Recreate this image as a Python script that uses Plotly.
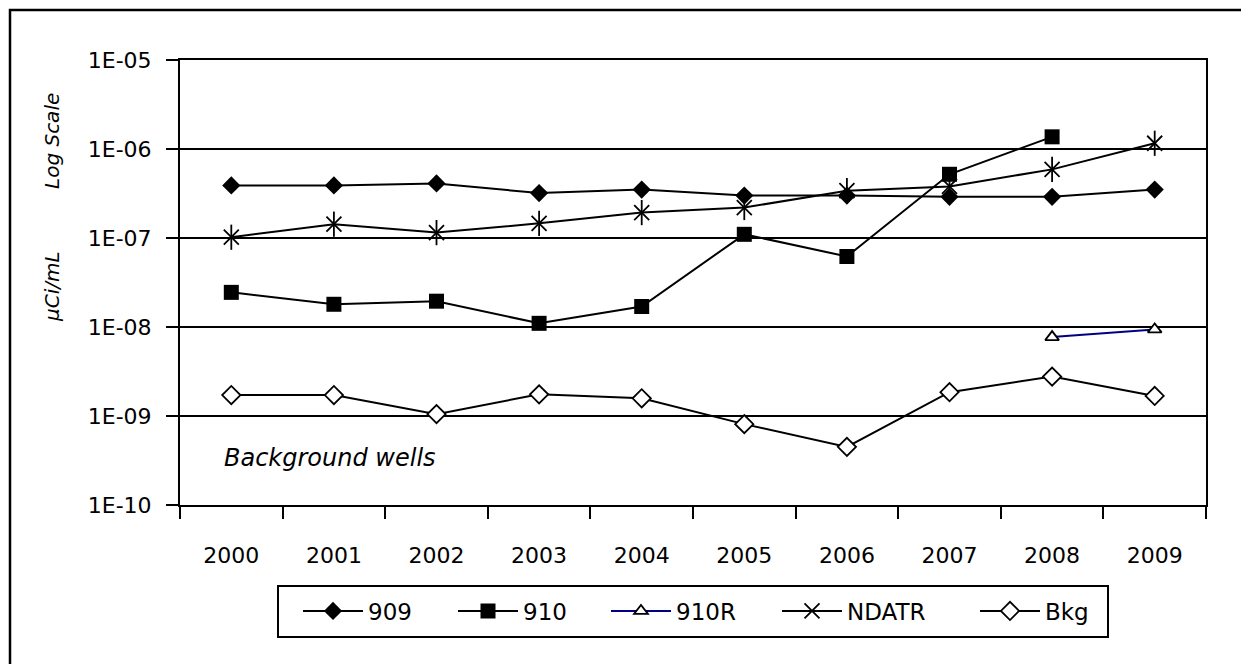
import plotly.graph_objects as go

years = ['2000', '2001', '2002', '2003', '2004', '2005', '2006', '2007', '2008', '2009']

w909 = [3.9e-7, 3.9e-7, 4.1e-7, 3.2e-7, 3.5e-7, 3.0e-7, 3.0e-7, 2.9e-7, 2.9e-7, 3.5e-7]
w910 = [2.45e-8, 1.8e-8, 1.95e-8, 1.1e-8, 1.7e-8, 1.1e-7, 6.2e-8, 5.2e-7, 1.37e-6, None]
w910r = [None, None, None, None, None, None, None, None, 7.7e-9, 9.4e-9]
ndatr = [1.02e-7, 1.43e-7, 1.15e-7, 1.46e-7, 1.93e-7, 2.2e-7, 3.4e-7, 3.8e-7, 5.9e-7, 1.16e-6]
bkg = [1.72e-9, 1.72e-9, 1.05e-9, 1.75e-9, 1.58e-9, 8.1e-10, 4.5e-10, 1.85e-9, 2.77e-9, 1.68e-9]

ytick_vals = [1e-10, 1e-9, 1e-8, 1e-7, 1e-6, 1e-5]
ytick_text = ['1E-10', '1E-09', '1E-08', '1E-07', '1E-06', '1E-05']

FONT = 'DejaVu Sans'
OFF = 8  # page body margin
W, H = 1241, 656
# plot area on the page: x 180..1206, y 60..505
L, T = 180 - OFF, 60 - OFF
R, B = W - (1206 - OFF), H - (505 - OFF)
pw, ph = W - L - R, H - T - B


def px(x):
    # page pixel -> paper x
    return (x - OFF - L) / pw


def py(y):
    # page pixel -> paper y
    return (H - B - (y - OFF)) / ph


fig = go.Figure()
fig.add_trace(go.Scatter(x=years, y=w909, name='909', mode='lines+markers', legend='legend',
                         line=dict(color='black', width=2),
                         marker=dict(symbol='diamond', size=14, color='black')))
fig.add_trace(go.Scatter(x=years, y=w910, name='910', mode='lines+markers', legend='legend2',
                         line=dict(color='black', width=2),
                         marker=dict(symbol='square', size=15, color='black')))
fig.add_trace(go.Scatter(x=years, y=w910r, name='910R', mode='lines+markers', legend='legend3',
                         line=dict(color='#000080', width=2),
                         marker=dict(symbol='triangle-up', size=12, color='white',
                                     line=dict(color='black', width=1.8))))
fig.add_trace(go.Scatter(x=years, y=ndatr, name='NDATR', mode='lines+markers', legend='legend4',
                         line=dict(color='black', width=2),
                         marker=dict(symbol='x-thin-open', size=15, color='black',
                                     line=dict(color='black', width=1.8))))
fig.add_trace(go.Scatter(x=years, y=ndatr, showlegend=False, mode='markers',
                         hoverinfo='skip',
                         marker=dict(symbol='line-ns-open', size=18, color='black',
                                     line=dict(color='black', width=1.8))))
fig.add_trace(go.Scatter(x=years, y=bkg, name='Bkg', mode='lines+markers', legend='legend5',
                         line=dict(color='black', width=2),
                         marker=dict(symbol='diamond', size=14, color='white',
                                     line=dict(color='black', width=1.8))))

# outer frame (clipped on the right and bottom)
fig.add_shape(type='rect', xref='paper', yref='paper',
              x0=px(10), x1=px(1300), y0=py(720), y1=py(10),
              line=dict(color='black', width=2.5), layer='below')
# legend box
fig.add_shape(type='rect', xref='paper', yref='paper',
              x0=px(278), x1=px(1108), y0=py(637), y1=py(586),
              line=dict(color='black', width=2), fillcolor='white', layer='below')

fig.add_annotation(x=px(52), y=py(141), xref='paper', yref='paper', text='<i>Log Scale</i>',
                   xanchor='center', yanchor='middle', textangle=-90, showarrow=False,
                   font=dict(size=20, color='black', family=FONT))
fig.add_annotation(x=px(52), y=py(287), xref='paper', yref='paper', text='<i>μCi/mL</i>',
                   xanchor='center', yanchor='middle', textangle=-90, showarrow=False,
                   font=dict(size=20, color='black', family=FONT))
fig.add_annotation(x=px(222), y=py(458), xref='paper', yref='paper', text='<i>Background wells</i>',
                   xanchor='left', yanchor='middle', showarrow=False,
                   font=dict(size=24, color='black', family=FONT))

fig.update_xaxes(type='category', range=[-0.5, 9.5], showline=True, linecolor='black',
                 linewidth=2, mirror=True, ticks='outside', ticklen=12, tickwidth=2,
                 tickcolor='black', tickson='boundaries', showgrid=False,
                 ticklabelstandoff=30,
                 tickfont=dict(size=22, color='black', family=FONT))
fig.update_yaxes(type='log', range=[-10, -5], tickvals=ytick_vals, ticktext=ytick_text,
                 showline=True, linecolor='black', linewidth=2, mirror=True,
                 ticks='outside', ticklen=12, tickwidth=2, tickcolor='black',
                 showgrid=True, gridcolor='black', gridwidth=2, zeroline=False,
                 ticklabelstandoff=10,
                 tickfont=dict(size=22, color='black', family=FONT))

# one legend per series so each entry sits where it does in the reference
legend_starts = [304, 459, 612, 783, 981]
legends = {}
for i, xs in enumerate(legend_starts):
    key = 'legend' if i == 0 else 'legend%d' % (i + 1)
    legends[key] = dict(orientation='h', x=px(xs - 6), y=py(611), xanchor='left',
                        yanchor='middle', borderwidth=0, bgcolor='rgba(0,0,0,0)',
                        font=dict(size=23, color='black', family=FONT), itemwidth=60)

fig.update_layout(
    width=W, height=H,
    margin=dict(l=L, r=R, t=T, b=B, autoexpand=False),
    paper_bgcolor='white', plot_bgcolor='white',
    font=dict(family=FONT, color='black'),
    showlegend=True,
    **legends,
)

fig.write_html('out.html')
